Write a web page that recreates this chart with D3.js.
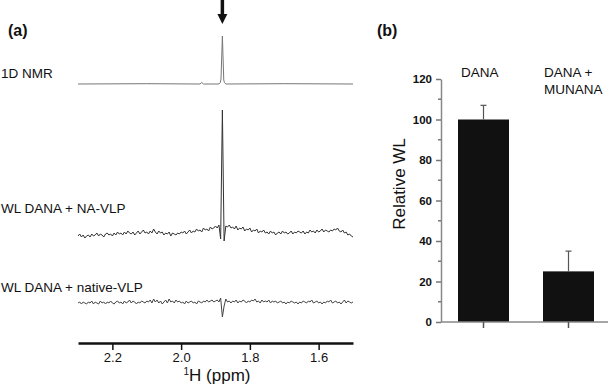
<!DOCTYPE html>
<html lang="en">
<head>
    <title>WL NMR</title>
    <script src="https://d3js.org/d3.v7.min.js"></script>
    <style>
        body { margin: 0; background: #fff; }
        text { font-family: "Liberation Sans", Arial, sans-serif; fill: #111; }
        .tick line { stroke-width: 1.5; }
    </style>
</head>
<body>

<script>
    // ---- panel (a): 1H spectra ----
    const ppmTicks = [2.2, 2.0, 1.8, 1.6];
    const peakPpm = 1.88;
    const gridStart = 2.30, gridStep = 0.005;   // ppm grid of the WL traces

    // 1D NMR reference spectrum, [ppm, intensity]
    const nmr1D = [[2.30,0],[2.10,0.3],[1.945,0],[1.94,1.5],[1.935,0],[1.89,0],[1.886,1.5],
                   [1.884,5],[1.88,48],[1.876,4],[1.874,1.5],[1.87,0],[1.70,0.3],[1.50,0]];

    const wlNaVlp = [
        -1,1,-2,0,-3,-1,0,-2,1,-1,0,2,-1,1,0,-2,1,2,0,1,
        -1,2,0,3,1,2,0,3,1,4,2,1,3,0,2,4,1,3,5,2,
        3,1,4,2,6,3,1,4,2,3,0,2,1,3,-1,2,1,0,2,1,
        3,2,4,1,3,5,2,4,3,6,4,5,3,7,5,6,4,8,6,7,
        9,7,10,-4,125,-6,9,8,10,7,
        8,6,9,5,7,6,8,4,6,5,7,3,5,4,6,2,4,3,5,2,
        3,1,4,2,3,0,2,3,1,4,2,3,1,2,4,1,3,2,4,3,
        2,4,1,3,2,5,3,4,2,5,3,4,6,3,5,4,3,5,4,6,
        5,7,4,3,5,2,3,0,1,-1,-2];

    const wlNative = [
        0,1,-1,1,0,-1,1,0,2,-1,1,0,-1,2,0,1,-1,1,0,2,
        0,-1,1,2,0,1,-1,2,0,1,3,0,2,1,-1,1,0,2,1,0,
        2,1,3,0,4,1,3,0,2,-1,1,3,0,4,1,2,0,3,1,2,
        0,1,-1,2,0,1,2,0,1,-1,2,1,0,2,1,3,1,2,3,1,
        2,3,1,5,-14,-3,4,1,2,0,
        2,1,3,0,2,1,3,2,0,2,1,3,2,4,1,2,0,3,1,2,
        1,3,0,2,1,2,0,1,2,0,1,-1,1,0,2,1,0,1,-1,1,
        0,2,1,0,2,1,3,0,1,2,0,1,-1,1,0,2,1,3,0,1,
        2,0,1,-1,1,3,0,2,1,0,1];

    const traceLabels = ["1D NMR", "WL DANA + NA-VLP", "WL DANA + native-VLP"];

    // ---- panel (b): bars ----
    const barCategories = ["DANA", "DANA + MUNANA"];
    const barValues = [100, 25];
    const barErrors = [7, 10];
    const yTicks = [0, 20, 40, 60, 80, 100, 120];
    const yMinorTicks = [10, 30, 50, 70, 90, 110];

    const W = 609, H = 389;
    const svg = d3.select("body").append("svg").attr("width", W).attr("height", H);

    // ================= (a) =================
    const x = d3.scaleLinear().domain([2.3, 1.5]).range([78, 353]);
    const amp = d3.scaleLinear().domain([0, 100]).range([0, 100]);
    const baselines = [84, 235, 303];

    const gridPts = arr => arr.map((v, i) => [gridStart - i * gridStep, v]);
    const traces = [nmr1D, gridPts(wlNaVlp), gridPts(wlNative)];
    const traceColors = ["#777", "#333", "#444"];

    traces.forEach((t, k) => {
        const line = d3.line().x(d => x(d[0])).y(d => baselines[k] - amp(d[1]));
        svg.append("path").datum(t)
            .attr("d", line)
            .attr("fill", "none")
            .attr("stroke", traceColors[k])
            .attr("stroke-width", 1)
            .attr("stroke-linejoin", "round");
    });

    const labelY = [78, 213, 292];
    svg.selectAll("text.tlabel").data(traceLabels).enter()
        .append("text").attr("class", "tlabel")
        .attr("x", 1).attr("y", (d, i) => labelY[i])
        .attr("font-size", 13.5)
        .text(d => d);

    // arrow over the peak
    const ax = x(peakPpm);
    svg.append("line").attr("x1", ax).attr("x2", ax).attr("y1", 0).attr("y2", 16)
        .attr("stroke", "#111").attr("stroke-width", 3.5);
    svg.append("path")
        .attr("d", `M${ax - 5},14 L${ax + 5},14 L${ax},24 Z`)
        .attr("fill", "#111");

    const xAxis = d3.axisBottom(x).tickValues(ppmTicks).tickSize(7).tickSizeOuter(0)
        .tickFormat(d3.format(".1f"));
    const gx = svg.append("g").attr("transform", "translate(0,343)").call(xAxis);
    gx.select(".domain").attr("stroke", "#111").attr("stroke-width", 2.5);
    gx.selectAll(".tick line").attr("stroke", "#111").attr("stroke-width", 2);
    gx.selectAll(".tick text").attr("font-size", 13).attr("y", 10)
        .style("font-family", "Liberation Sans, Arial, sans-serif").attr("fill", "#111");

    const title = svg.append("text").attr("x", 217).attr("y", 381)
        .attr("text-anchor", "middle").attr("font-size", 17);
    title.append("tspan").attr("font-size", 10).attr("dy", -6).text("1");
    title.append("tspan").attr("dy", 6).text("H (ppm)");

    svg.append("text").attr("x", 8).attr("y", 36).attr("font-size", 16)
        .attr("font-weight", "bold").text("(a)");

    // ================= (b) =================
    const yB = d3.scaleLinear().domain([0, 120]).range([322, 79]);
    const xB = d3.scaleBand().domain(barCategories).range([441, 611])
        .paddingInner(0.4).paddingOuter(0.2);

    svg.selectAll("rect.bar").data(barValues).enter()
        .append("rect").attr("class", "bar")
        .attr("x", (d, i) => xB(barCategories[i]))
        .attr("width", xB.bandwidth())
        .attr("y", d => yB(d))
        .attr("height", d => yB(0) - yB(d))
        .attr("fill", "#111");

    // error bars
    const errG = svg.selectAll("g.err").data(barValues).enter().append("g").attr("class", "err");
    errG.append("line")
        .attr("x1", (d, i) => xB(barCategories[i]) + xB.bandwidth() / 2)
        .attr("x2", (d, i) => xB(barCategories[i]) + xB.bandwidth() / 2)
        .attr("y1", d => yB(d))
        .attr("y2", (d, i) => yB(d + barErrors[i]))
        .attr("stroke", "#555").attr("stroke-width", 1.2);
    errG.append("line")
        .attr("x1", (d, i) => xB(barCategories[i]) + xB.bandwidth() / 2 - 3)
        .attr("x2", (d, i) => xB(barCategories[i]) + xB.bandwidth() / 2 + 3)
        .attr("y1", (d, i) => yB(d + barErrors[i]))
        .attr("y2", (d, i) => yB(d + barErrors[i]))
        .attr("stroke", "#555").attr("stroke-width", 1.2);

    // y axis
    const yAxis = d3.axisLeft(yB).tickValues(yTicks).tickSize(5).tickSizeOuter(0).tickPadding(4);
    const gy = svg.append("g").attr("transform", "translate(441,0)").call(yAxis);
    gy.select(".domain").attr("stroke", "#888").attr("stroke-width", 1.5);
    gy.selectAll(".tick line").attr("stroke", "#777");
    gy.selectAll(".tick text").attr("font-size", 11.5).attr("font-weight", "bold")
        .style("font-family", "Liberation Sans, Arial, sans-serif").attr("fill", "#111");
    gy.selectAll("line.minor").data(yMinorTicks).enter()
        .append("line").attr("class", "minor")
        .attr("x1", -3).attr("x2", 0)
        .attr("y1", d => yB(d)).attr("y2", d => yB(d))
        .attr("stroke", "#777").attr("stroke-width", 1.5);

    // x axis of bars
    const xAxisB = d3.axisBottom(xB).tickSize(6).tickSizeOuter(0).tickFormat("");
    const gxb = svg.append("g").attr("transform", "translate(0,322)").call(xAxisB);
    gxb.select(".domain").attr("d", "M441,0H608").attr("stroke", "#888").attr("stroke-width", 1.5);
    gxb.selectAll(".tick line").attr("stroke", "#555");

    // category labels above bars
    svg.append("text").attr("x", xB("DANA") + 3).attr("y", 77)
        .attr("font-size", 13.5).text("DANA");
    const lab2 = svg.append("text").attr("x", xB("DANA + MUNANA") + 1).attr("y", 77).attr("font-size", 13.5);
    lab2.append("tspan").text("DANA +");
    lab2.append("tspan").attr("x", xB("DANA + MUNANA") + 1).attr("dy", 17).text("MUNANA");

    svg.append("text")
        .attr("transform", "translate(405,184) rotate(-90)")
        .attr("text-anchor", "middle").attr("font-size", 17)
        .text("Relative WL");

    svg.append("text").attr("x", 377).attr("y", 36).attr("font-size", 16)
        .attr("font-weight", "bold").text("(b)");
</script>

</body>
</html>
